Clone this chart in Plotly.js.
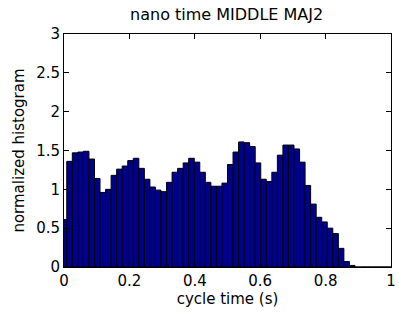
<!DOCTYPE html>
<html>
<head>
<meta charset="utf-8">
<script src="https://cdn.plot.ly/plotly-3.0.1.min.js"></script>
<style>html,body{margin:0;padding:0;background:#fff;}#chart{width:399px;height:317px;}</style>
</head>
<body>
<div id="chart"></div>
<script>
// bin centers: 60 bins spanning 0..1
const binCount = 60;
const binCenters = Array.from({length: binCount}, (_, k) => k / (binCount - 1));
const histValues = [
  0.61, 1.36, 1.47, 1.48, 1.49, 1.39, 1.14, 0.96, 1.00, 1.18,
  1.26, 1.30, 1.37, 1.40, 1.27, 1.13, 1.03, 0.99, 0.97, 1.09,
  1.22, 1.27, 1.34, 1.40, 1.35, 1.22, 1.09, 1.04, 1.04, 1.08,
  1.32, 1.48, 1.61, 1.60, 1.55, 1.34, 1.13, 1.10, 1.22, 1.44,
  1.57, 1.57, 1.52, 1.35, 1.05, 0.81, 0.64, 0.58, 0.50, 0.43,
  0.24, 0.07, 0.02, 0, 0, 0, 0, 0, 0, 0
];
const xTickVals = [0, 0.2, 0.4, 0.6, 0.8, 1];
const xTickText = ["0", "0.2", "0.4", "0.6", "0.8", "1"];
const yTickVals = [0, 0.5, 1, 1.5, 2, 2.5, 3];
const yTickText = ["0", "0.5", "1", "1.5", "2", "2.5", "3"];

const font = {family: "DejaVu Sans, Arial, sans-serif", size: 15, color: "#000"};
const titleFont = {family: "DejaVu Sans, Arial, sans-serif", size: 16, color: "#000"};

Plotly.newPlot("chart", [{
  type: "bar",
  x: binCenters,
  y: histValues,
  width: 1 / (binCount - 1),
  marker: {color: "#00008F", line: {color: "#000", width: 1}},
  hoverinfo: "none"
}], {
  width: 399, height: 317,
  margin: {l: 64, r: 8, t: 34, b: 50},
  paper_bgcolor: "#fff", plot_bgcolor: "#fff",
  font: font,
  showlegend: false,
  bargap: 0,
  title: {text: "nano time MIDDLE MAJ2", font: titleFont, x: 0.568, xanchor: "center", y: 0.955, yanchor: "middle"},
  xaxis: {
    range: [0, 1], tickvals: xTickVals, ticktext: xTickText,
    ticks: "inside", ticklen: 5, tickcolor: "#000", showline: true, linecolor: "#000", linewidth: 1,
    mirror: "allticks", showgrid: false, zeroline: false,
    title: {text: "cycle time (s)", font: font, standoff: 2}
  },
  yaxis: {
    range: [0, 3], tickvals: yTickVals, ticktext: yTickText,
    ticks: "inside", ticklen: 5, tickcolor: "#000", showline: true, linecolor: "#000", linewidth: 1,
    mirror: "allticks", showgrid: false, zeroline: false,
    title: {text: "normalized histogram", font: font, standoff: 7}
  }
}, {staticPlot: true, displayModeBar: false});
</script>
</body>
</html>
